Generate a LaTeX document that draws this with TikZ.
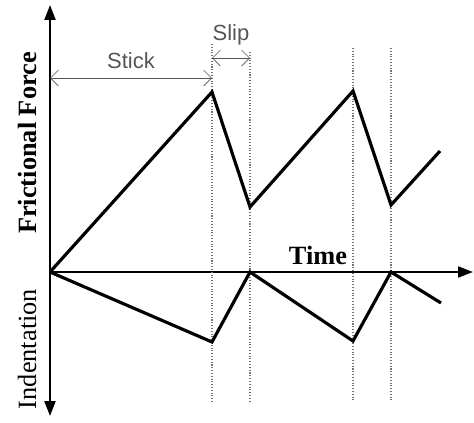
\documentclass[tikz,border=0pt]{standalone}
\usepackage{fontspec}
\setmainfont{Liberation Serif}
\setsansfont{Liberation Sans}
\usepackage{tikz}
\usetikzlibrary{arrows.meta, positioning}
\definecolor{notegray}{RGB}{85, 85, 85}

\begin{document}
\begin{tikzpicture}[
    x=0.02cm, y=-0.02cm,
    axis/.style={-{Triangle[length=3mm, width=2.2mm]}, line width=1.3pt},
    curve/.style={line width=1.8pt, line join=miter},
    guide/.style={densely dotted, line width=0.6pt, black!55},
    span/.style={{Straight Barb[length=1.6mm]}-{Straight Barb[length=1.6mm]}, thin, notegray},
    note/.style={font=\sffamily\fontsize{12.5}{14}\selectfont, text=notegray},
    axislabel/.style={font=\fontsize{15}{17}\selectfont, rotate=90}
]
\useasboundingbox (0,0) rectangle (474,423);
% axes
\coordinate (o) at (50,272);
\coordinate (top) at (50,5);
\coordinate (bottom) at (50,416);
\coordinate (right) at (473,272);
\draw[axis] (o) -- (top);
\draw[axis] (o) -- (bottom);
\draw[axis] (o) -- (right);
% stick-slip instants
\foreach \name/\x/\y in {s1/212/44, p1/250/52, s2/353/48, p2/391/48} {
    \coordinate (\name top) at (\x,\y);
    \coordinate (\name bot) at (\x,402);
    \draw[guide] (\name top) -- (\name bot);
}
% frictional force
\coordinate (f1) at (212,92);
\coordinate (f2) at (250,207);
\coordinate (f3) at (353,91);
\coordinate (f4) at (391,205);
\coordinate (f5) at (440,151);
\draw[curve] (o) -- (f1) -- (f2) -- (f3) -- (f4) -- (f5);
% indentation
\coordinate (d1) at (212,342);
\coordinate (d2) at (250,272);
\coordinate (d3) at (353,341);
\coordinate (d4) at (391,272);
\coordinate (d5) at (441,303);
\draw[curve] (o) -- (d1) -- (d2) -- (d3) -- (d4) -- (d5);
% stick / slip spans
\coordinate (stickl) at (50,78);
\coordinate (stickr) at (212,78);
\coordinate (slipl) at (212,58);
\coordinate (slipr) at (250,58);
\draw[span] (stickl) -- node[note, above=2pt] (stick) {Stick} (stickr);
\draw[span] (slipl) -- node[note, above=4pt] (slip) {Slip} (slipr);
% labels
\node[axislabel, font=\bfseries\fontsize{15}{17}\selectfont] (force) at (27,143) {Frictional Force};
\node[axislabel] (indent) at (27,349) {Indentation};
\node[font=\bfseries\fontsize{15}{17}\selectfont] (time) at (318,255) {Time};
\end{tikzpicture}
\end{document}
